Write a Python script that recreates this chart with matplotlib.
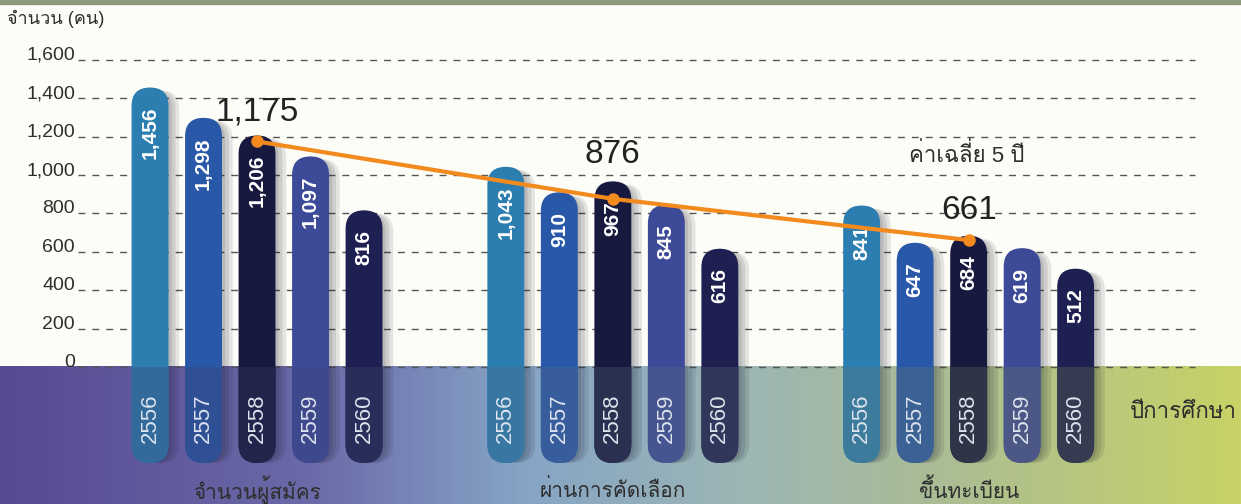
import numpy as np
import matplotlib.pyplot as plt
from matplotlib.patches import FancyBboxPatch, Rectangle
from matplotlib import font_manager
from matplotlib.ft2font import FT2Font
from matplotlib.ticker import StrMethodFormatter
import matplotlib.colors as mcolors

# data
years = ["2556", "2557", "2558", "2559", "2560"]
groups = ["จำนวนผู้สมัคร", "ผ่านการคัดเลือก", "ขึ้นทะเบียน"]
applicants = [1456, 1298, 1206, 1097, 816]
selected = [1043, 910, 967, 845, 616]
registered = [841, 647, 684, 619, 512]
averages = [1175, 876, 661]
yticks = [0, 200, 400, 600, 800, 1000, 1200, 1400, 1600]

series = [applicants, selected, registered]
year_colors = ["#2c7db0", "#2a58a8", "#17193f", "#3c4a98", "#1d2050"]


def find_thai_font():
    # first installed font that has Thai glyphs
    for f in font_manager.fontManager.ttflist:
        try:
            if 0x0E01 in FT2Font(f.fname).get_charmap():
                return f.name
        except Exception:
            pass
    return "DejaVu Sans"


thai = find_thai_font()
num_font = ["Liberation Sans", "DejaVu Sans"]
thai_font = ["Liberation Sans", thai, "DejaVu Sans"]
text_col = "#2e2e2e"

# band colours (purple -> light blue -> yellow green)
stops = [0.0, 0.25, 0.42, 0.6, 0.75, 1.0]
stop_cols = ["#574a92", "#6a6aa8", "#86a4c6", "#9cb6b4", "#a9bc96", "#c8d266"]
stop_rgb = np.array([mcolors.to_rgb(c) for c in stop_cols])


def band_color(frac):
    return np.array([np.interp(frac, stops, stop_rgb[:, k]) for k in range(3)])


fig = plt.figure(figsize=(12.41, 5.04), dpi=100)
fig.patch.set_facecolor("#fdfdf8")
ax = fig.add_axes([0, 0, 1, 1])
ax.set_facecolor("#fdfdf8")

xmin, xmax = -2.804, 20.39
ymin, ymax = -714, 1912
pitch = 1.0
group_gap = 6.65
bar_w = 0.69
aspect = (1241 / (xmax - xmin)) / (504 / (ymax - ymin))
bar_bottom = -500

# gradient band below zero
fr = np.linspace(0, 1, 400)
grad = np.array([band_color(f) for f in fr])[None, :, :]
ax.imshow(grad, extent=[xmin, xmax, ymin, 0], aspect="auto", zorder=0.5)

# top border strip
ax.add_patch(Rectangle((0, 0.992), 1, 0.008, transform=ax.transAxes,
                       color="#8d9a7c", zorder=0.6))

# dashed gridlines
for yt in yticks:
    ax.axhline(yt, xmin=0.063, xmax=0.963, color="#555555", lw=1.0,
               ls=(0, (5, 5)), zorder=1)

clip_rect = Rectangle((xmin, ymin), xmax - xmin, -ymin, transform=ax.transData)

for g, vals in enumerate(series):
    for i, v in enumerate(vals):
        xc = g * group_gap + i * pitch
        x0 = xc - bar_w / 2
        # soft shadow to the right
        for dx in [0.06, 0.13, 0.2]:
            sh = FancyBboxPatch((x0 + dx, bar_bottom), bar_w, v - 15 - bar_bottom,
                                boxstyle=f"round,pad=0,rounding_size={bar_w / 2}",
                                mutation_aspect=aspect, fc="#1a1a2a", ec="none",
                                alpha=0.11, zorder=1.5)
            ax.add_patch(sh)
        bar = FancyBboxPatch((x0, bar_bottom), bar_w, v - bar_bottom,
                             boxstyle=f"round,pad=0,rounding_size={bar_w / 2}",
                             mutation_aspect=aspect, fc=year_colors[i], ec="none",
                             zorder=2)
        ax.add_patch(bar)
        # part of bar inside the band is tinted by it
        frac = (xc - xmin) / (xmax - xmin)
        tint = 0.8 * np.array(mcolors.to_rgb(year_colors[i])) + 0.2 * band_color(frac)
        tint = tint * 0.9
        low = FancyBboxPatch((x0, bar_bottom), bar_w, v - bar_bottom,
                             boxstyle=f"round,pad=0,rounding_size={bar_w / 2}",
                             mutation_aspect=aspect, fc=tint, ec="none",
                             zorder=2.1)
        ax.add_patch(low)
        low.set_clip_path(clip_rect)
        # value label
        ax.annotate(f"{v:,}", (xc, v), xytext=(0, -14), textcoords="offset points",
                    rotation=90, ha="center", va="top", color="white",
                    fontsize=15, fontweight="bold", family=num_font, zorder=5)
        # year label
        ax.text(xc, -266, years[i], rotation=90, ha="center", va="center",
                color="#dde4ee", fontsize=16, family=num_font, zorder=5)
    ax.text(g * group_gap + 2 * pitch, -641, groups[g], ha="center", va="center",
            fontsize=15, color=text_col, family=thai_font, zorder=5)

# 5-year average line
avg_x = [g * group_gap + 2 * pitch for g in range(len(averages))]
ax.plot(avg_x, averages, color="#f28a1e", lw=3, marker="o", ms=8, zorder=6)
avg_label_dy = [21, 32, 21]
for xa, ya, dy in zip(avg_x, averages, avg_label_dy):
    ax.annotate(f"{ya:,}", (xa, ya), xytext=(0, dy), textcoords="offset points",
                ha="center", va="center", fontsize=24, color="#222222",
                family=num_font, zorder=6)

ax.text(0.779, 0.692, "ค่าเฉลี่ย 5 ปี", transform=ax.transAxes, ha="center",
        va="center", fontsize=16, color=text_col, family=thai_font)
ax.text(0.9106, 0.1825, "ปีการศึกษา", transform=ax.transAxes, ha="left",
        va="center", fontsize=16, color=text_col, family=thai_font)
ax.text(0.0056, 0.962, "จำนวน (คน)", transform=ax.transAxes, ha="left",
        va="center", fontsize=13, color=text_col, family=thai_font)

ax.set_xlim(xmin, xmax)
ax.set_ylim(ymin, ymax)
ax.set_xticks([])
ax.set_yticks(yticks)
ax.yaxis.set_major_formatter(StrMethodFormatter("{x:,.0f}"))
ax.tick_params(axis="y", length=0, pad=-54, labelsize=14, labelcolor=text_col)
for lab in ax.get_yticklabels():
    lab.set_va("baseline")
    lab.set_family(num_font)
for s in ax.spines.values():
    s.set_visible(False)

fig.savefig("out.png", dpi=100, facecolor=fig.get_facecolor())
